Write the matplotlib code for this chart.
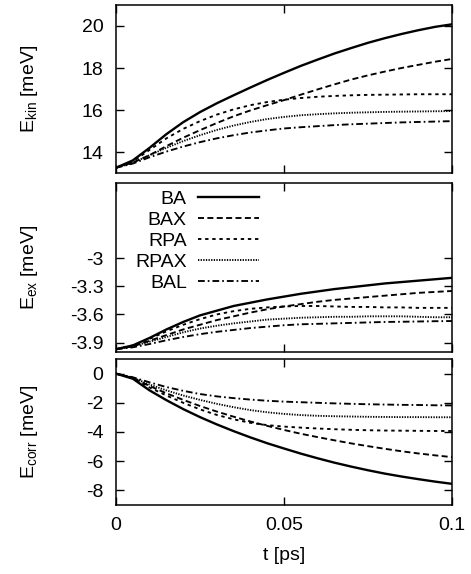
import matplotlib
matplotlib.use("Agg")
import matplotlib.pyplot as plt

plt.rcParams['font.family'] = ['Liberation Sans', 'DejaVu Sans']
plt.rcParams['axes.unicode_minus'] = False
plt.rcParams['mathtext.fontset'] = 'custom'
plt.rcParams['mathtext.rm'] = 'Liberation Sans'
plt.rcParams['mathtext.it'] = 'Liberation Sans'

# time axis [ps]
t = [0, 0.005, 0.01, 0.015, 0.02, 0.025, 0.03, 0.035, 0.04, 0.045, 0.05,
     0.055, 0.06, 0.065, 0.07, 0.075, 0.08, 0.085, 0.09, 0.095, 0.1]

labels = ['BA', 'BAX', 'RPA', 'RPAX', 'BAL']

# kinetic energy [meV]
ekin_ba   = [13.25, 13.6, 14.2, 14.85, 15.42, 15.9, 16.32, 16.7, 17.07, 17.43, 17.77,
             18.1, 18.4, 18.69, 18.95, 19.2, 19.42, 19.62, 19.8, 19.96, 20.08]
ekin_bax  = [13.25, 13.5, 13.85, 14.28, 14.68, 15.04, 15.38, 15.7, 15.98, 16.23, 16.47,
             16.73, 16.98, 17.22, 17.45, 17.65, 17.83, 18.0, 18.15, 18.3, 18.43]
ekin_rpa  = [13.25, 13.55, 14.1, 14.65, 15.1, 15.47, 15.78, 16.03, 16.23, 16.38, 16.49,
             16.57, 16.63, 16.67, 16.7, 16.72, 16.73, 16.74, 16.75, 16.75, 16.75]
ekin_rpax = [13.25, 13.48, 13.85, 14.2, 14.52, 14.8, 15.05, 15.26, 15.43, 15.57, 15.67,
             15.75, 15.8, 15.84, 15.87, 15.89, 15.91, 15.92, 15.93, 15.94, 15.95]
ekin_bal  = [13.25, 13.45, 13.75, 14.02, 14.26, 14.47, 14.65, 14.8, 14.93, 15.03, 15.12,
             15.18, 15.23, 15.28, 15.32, 15.35, 15.38, 15.41, 15.43, 15.45, 15.47]

# exchange energy [meV]
eex_ba   = [-3.97, -3.93, -3.85, -3.76, -3.68, -3.61, -3.56, -3.51, -3.475, -3.44, -3.41,
            -3.38, -3.355, -3.33, -3.31, -3.29, -3.27, -3.255, -3.24, -3.225, -3.21]
eex_bax  = [-3.97, -3.94, -3.88, -3.82, -3.76, -3.71, -3.66, -3.62, -3.58, -3.545, -3.515,
            -3.49, -3.465, -3.445, -3.43, -3.415, -3.4, -3.385, -3.37, -3.36, -3.35]
eex_rpa  = [-3.97, -3.93, -3.86, -3.78, -3.71, -3.65, -3.6, -3.565, -3.54, -3.525, -3.515,
            -3.51, -3.51, -3.515, -3.52, -3.52, -3.525, -3.525, -3.53, -3.53, -3.53]
eex_rpax = [-3.97, -3.94, -3.89, -3.84, -3.79, -3.75, -3.72, -3.695, -3.675, -3.655, -3.645,
            -3.635, -3.63, -3.625, -3.625, -3.62, -3.62, -3.62, -3.625, -3.63, -3.63]
eex_bal  = [-3.97, -3.95, -3.915, -3.875, -3.84, -3.81, -3.785, -3.765, -3.745, -3.73, -3.715,
            -3.705, -3.7, -3.695, -3.69, -3.685, -3.68, -3.678, -3.675, -3.672, -3.67]

# correlation energy [meV]
ecorr_ba   = [0, -0.35, -1.15, -1.82, -2.43, -2.98, -3.48, -3.94, -4.37, -4.77, -5.13,
              -5.48, -5.8, -6.1, -6.37, -6.62, -6.85, -7.05, -7.23, -7.4, -7.55]
ecorr_bax  = [0, -0.3, -0.85, -1.35, -1.8, -2.22, -2.6, -2.95, -3.28, -3.58, -3.86,
              -4.12, -4.35, -4.57, -4.78, -4.97, -5.15, -5.32, -5.47, -5.6, -5.72]
ecorr_rpa  = [0, -0.3, -0.95, -1.5, -2.0, -2.45, -2.83, -3.13, -3.37, -3.53, -3.63,
              -3.7, -3.76, -3.81, -3.85, -3.88, -3.9, -3.91, -3.92, -3.93, -3.93]
ecorr_rpax = [0, -0.28, -0.75, -1.15, -1.5, -1.8, -2.07, -2.3, -2.5, -2.65, -2.76,
              -2.84, -2.89, -2.92, -2.94, -2.96, -2.97, -2.98, -2.98, -2.99, -2.99]
ecorr_bal  = [0, -0.25, -0.6, -0.92, -1.18, -1.4, -1.56, -1.68, -1.78, -1.86, -1.92,
              -1.96, -2.0, -2.04, -2.07, -2.1, -2.12, -2.14, -2.15, -2.17, -2.18]

styles = [
    dict(ls='-', lw=1.7),
    dict(ls=(0, (3.2, 1.8)), lw=1.35),
    dict(ls=(0, (1.8, 2.0)), lw=1.35),
    dict(ls=(0, (0.7, 0.7)), lw=1.35),
    dict(ls=(0, (3.6, 1.6, 0.9, 1.6)), lw=1.35),
]

fig = plt.figure(figsize=(4.71, 5.74), dpi=100)
W, H = 471.0, 574.0
left, right = 116 / W, 452 / W
ax1 = fig.add_axes([left, 1 - 173 / H, right - left, 168 / H])
ax2 = fig.add_axes([left, 1 - 352 / H, right - left, 169 / H])
ax3 = fig.add_axes([left, 1 - 505 / H, right - left, 146 / H])

panels = [
    (ax1, [ekin_ba, ekin_bax, ekin_rpa, ekin_rpax, ekin_bal],
     (13, 21), [14, 16, 18, 20], ['14', '16', '18', '20'], r'E$_{\rm kin}$ [meV]'),
    (ax2, [eex_ba, eex_bax, eex_rpa, eex_rpax, eex_bal],
     (-4.0, -2.2), [-3.9, -3.6, -3.3, -3.0], ['-3.9', '-3.6', '-3.3', '-3'], r'E$_{\rm ex}$ [meV]'),
    (ax3, [ecorr_ba, ecorr_bax, ecorr_rpa, ecorr_rpax, ecorr_bal],
     (-9, 1), [-8, -6, -4, -2, 0], ['-8', '-6', '-4', '-2', '0'], r'E$_{\rm corr}$ [meV]'),
]

for ax, series, ylim, yt, ytl, ylab in panels:
    for y, lab, st in zip(series, labels, styles):
        ax.plot(t, y, color='black', label=lab, **st)
    ax.set_xlim(0, 0.1)
    ax.set_ylim(*ylim)
    ax.set_yticks(yt)
    ax.set_yticklabels(ytl)
    ax.set_xticks([0, 0.05, 0.1])
    ax.tick_params(direction='in', length=6, width=1, labelsize=14,
                   top=True, right=True, pad=9)
    ax.set_ylabel(ylab, fontsize=14)
    ax.yaxis.set_label_coords(-0.225, 0.5)
    for s in ax.spines.values():
        s.set_linewidth(1.1)

ax1.tick_params(labelbottom=False)
ax2.tick_params(labelbottom=False)
ax3.set_xticklabels(['0', '0.05', '0.1'])
ax3.tick_params(axis='x', pad=9)
ax3.set_xlabel('t [ps]', fontsize=14, labelpad=9)

leg = ax2.legend(loc='upper left', bbox_to_anchor=(0.057, 0.955), frameon=False,
                 markerfirst=False, fontsize=14, handlelength=3.1,
                 handletextpad=0.6, labelspacing=0.17, borderaxespad=0.0,
                 borderpad=0.0)

fig.savefig('out.png', dpi=100)
